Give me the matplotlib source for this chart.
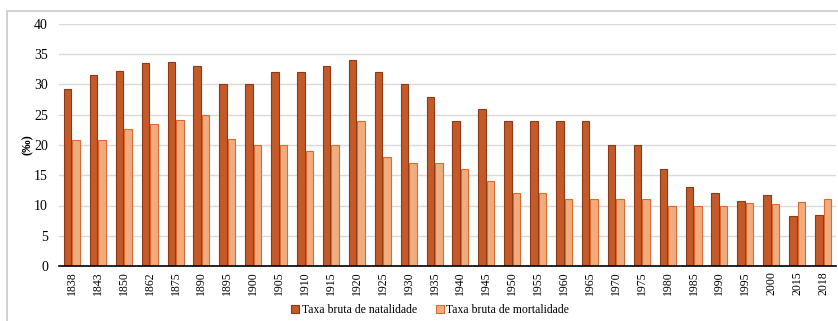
import numpy as np
import matplotlib.pyplot as plt
from matplotlib.patches import Rectangle

anos = ["1838", "1843", "1850", "1862", "1875", "1890", "1895", "1900", "1905", "1910",
        "1915", "1920", "1925", "1930", "1935", "1940", "1945", "1950", "1955", "1960",
        "1965", "1970", "1975", "1980", "1985", "1990", "1995", "2000", "2015", "2018"]
natalidade = [29.2, 31.5, 32.3, 33.6, 33.8, 33.0, 30.0, 30.0, 32.0, 32.0,
              33.0, 34.0, 32.0, 30.0, 28.0, 24.0, 26.0, 24.0, 24.0, 24.0,
              24.0, 20.0, 20.0, 16.0, 13.0, 12.0, 10.7, 11.7, 8.3, 8.5]
mortalidade = [20.8, 20.8, 22.7, 23.5, 24.1, 25.0, 21.0, 20.0, 20.0, 19.0,
               20.0, 24.0, 18.0, 17.0, 17.0, 16.0, 14.0, 12.0, 12.0, 11.0,
               11.0, 11.0, 11.0, 10.0, 10.0, 10.0, 10.4, 10.2, 10.6, 11.0]

plt.rcParams['font.family'] = ['Liberation Serif', 'DejaVu Serif']

fig = plt.figure(figsize=(8.38, 3.21), dpi=100)
# chart frame
fig.patches.append(Rectangle((7 / 838, -0.05), 1.0, 1 - 11 / 321 + 0.05,
                             transform=fig.transFigure, fill=False,
                             edgecolor="#C8C8C8", linewidth=1.2))

ax = fig.add_axes([59 / 838, 55 / 321, 777 / 838, 242 / 321])
x = np.arange(len(anos))
w = 0.29
ax.bar(x - 0.165, natalidade, w, color="#C55A28", edgecolor="#8A3A16",
       linewidth=0.8, label="Taxa bruta de natalidade", zorder=3)
ax.bar(x + 0.165, mortalidade, w, color="#F0AC7E", edgecolor="#DC6A30",
       linewidth=0.8, label="Taxa bruta de mortalidade", zorder=3)

ax.set_xlim(-0.5, len(anos) - 0.5)
ax.set_ylim(0, 40)
ax.set_yticks(range(0, 41, 5))
ax.set_xticks(x)
ax.set_xticklabels(anos, rotation=90, fontsize=8.5)
ax.tick_params(axis="y", labelsize=10, length=0, pad=8)
ax.tick_params(axis="x", length=0, pad=4)
ax.yaxis.grid(True, color="#D9D9D9", linewidth=1, zorder=0)
for s in ["left", "right", "top"]:
    ax.spines[s].set_visible(False)
ax.spines["bottom"].set_color("black")
ax.spines["bottom"].set_linewidth(1.2)
ax.spines["bottom"].set_zorder(4)
ax.set_ylabel("(‰)", fontsize=9, fontweight="bold", labelpad=0)

fig.legend(loc="center", bbox_to_anchor=(430 / 838, 1 - 310 / 321), ncol=2,
           frameon=False, fontsize=8.5, handlelength=0.7, handleheight=0.7,
           handletextpad=0.2, columnspacing=1.6)

fig.savefig("out.png", dpi=100)
